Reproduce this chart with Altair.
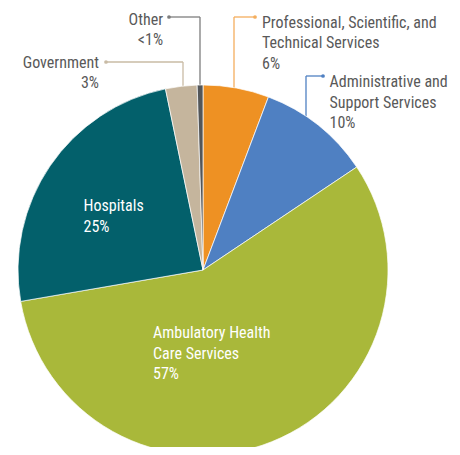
import altair as alt
import pandas as pd

# Data (shares; labels as printed)
categories = ["Professional, Scientific, and Technical Services",
              "Administrative and Support Services",
              "Ambulatory Health Care Services",
              "Hospitals", "Government", "Other"]
shares = [5.75, 9.85, 56.65, 24.45, 2.75, 0.5]
pct_labels = ["6%", "10%", "57%", "25%", "3%", "<1%"]
colors = ["#EE9123", "#4F80C2", "#A9B83A", "#03606B", "#C5B59D", "#535659"]

W, H = 444, 439
CX, CY, R = 195, 262, 185
FONT = ("Noto Sans ExtraCondensed, Noto Sans Condensed, Roboto Condensed, "
        "Open Sans Condensed, Liberation Sans Narrow, DejaVu Sans Condensed, sans-serif")
FS = 16

pie_df = pd.DataFrame({"cat": categories, "share": shares,
                       "order": list(range(len(categories)))})

xs = alt.Scale(domain=[0, W], range=[0, W])
ys = alt.Scale(domain=[0, H], range=[0, H])

pie = alt.Chart(pie_df).mark_arc(outerRadius=R, stroke="white", strokeWidth=0.7).encode(
    theta=alt.Theta("share:Q", stack=True),
    order=alt.Order("order:Q"),
    color=alt.Color("cat:N", scale=alt.Scale(domain=categories, range=colors), legend=None),
    x=alt.value(CX), y=alt.value(CY),
)

# label layout (chart pixel coords)
lab_rows = []
def add(lines, x, y0, align, color):
    for i, t in enumerate(lines):
        lab_rows.append({"t": t, "x": x, "y": y0 + i * 20.7, "align": align, "c": color})

gray = "#595959"
add(["Other", pct_labels[5]], 155, 16.5, "right", gray)
add(["Government", pct_labels[4]], 91, 59.5, "right", gray)
add(["Professional, Scientific, and", "Technical Services", pct_labels[0]], 254, 19.5, "left", gray)
add(["Administrative and", "Support Services", pct_labels[1]], 321.5, 79, "left", gray)
add(["Hospitals", pct_labels[3]], 75.5, 203, "left", "white")
add(["Ambulatory Health", "Care Services", pct_labels[2]], 145, 330, "left", "white")
lab_df = pd.DataFrame(lab_rows)

def text_layer(align):
    d = lab_df[lab_df["align"] == align]
    return alt.Chart(d).mark_text(align=align, baseline="alphabetic", font=FONT,
                                  fontSize=FS).encode(
        x=alt.X("x:Q", scale=xs, axis=None),
        y=alt.Y("y:Q", scale=ys, axis=None),
        text="t:N",
        color=alt.Color("c:N", scale=None),
    )

# leader lines: dot -> horizontal -> vertical down to the pie
leaders = [
    {"x": 161, "y": 9, "xm": 192, "yb": 78, "c": "#7d7d7d"},
    {"x": 98, "y": 54, "xm": 175, "yb": 79, "c": "#C9BBA5"},
    {"x": 247, "y": 9, "xm": 226, "yb": 80, "c": "#F4AE5E"},
    {"x": 315, "y": 68, "xm": 298, "yb": 108, "c": "#4F80C2"},
]
seg_rows, dot_rows = [], []
for L in leaders:
    seg_rows.append({"x1": L["x"], "y1": L["y"], "x2": L["xm"], "y2": L["y"], "c": L["c"]})
    seg_rows.append({"x1": L["xm"], "y1": L["y"], "x2": L["xm"], "y2": L["yb"], "c": L["c"]})
    dot_rows.append({"x": L["x"], "y": L["y"], "c": L["c"]})
seg_df = pd.DataFrame(seg_rows)
dot_df = pd.DataFrame(dot_rows)

segs = alt.Chart(seg_df).mark_rule(strokeWidth=1.3).encode(
    x=alt.X("x1:Q", scale=xs, axis=None), y=alt.Y("y1:Q", scale=ys, axis=None),
    x2="x2:Q", y2="y2:Q", color=alt.Color("c:N", scale=None))
dots = alt.Chart(dot_df).mark_circle(size=14, opacity=1).encode(
    x=alt.X("x:Q", scale=xs, axis=None), y=alt.Y("y:Q", scale=ys, axis=None),
    color=alt.Color("c:N", scale=None))

chart = alt.layer(segs, pie, dots, text_layer("left"), text_layer("right")).properties(
    width=W, height=H, padding=0,
    autosize=alt.AutoSizeParams(type="none")
).configure_view(stroke=None)

chart.save("out.html", embed_options={"renderer": "svg", "actions": False})
